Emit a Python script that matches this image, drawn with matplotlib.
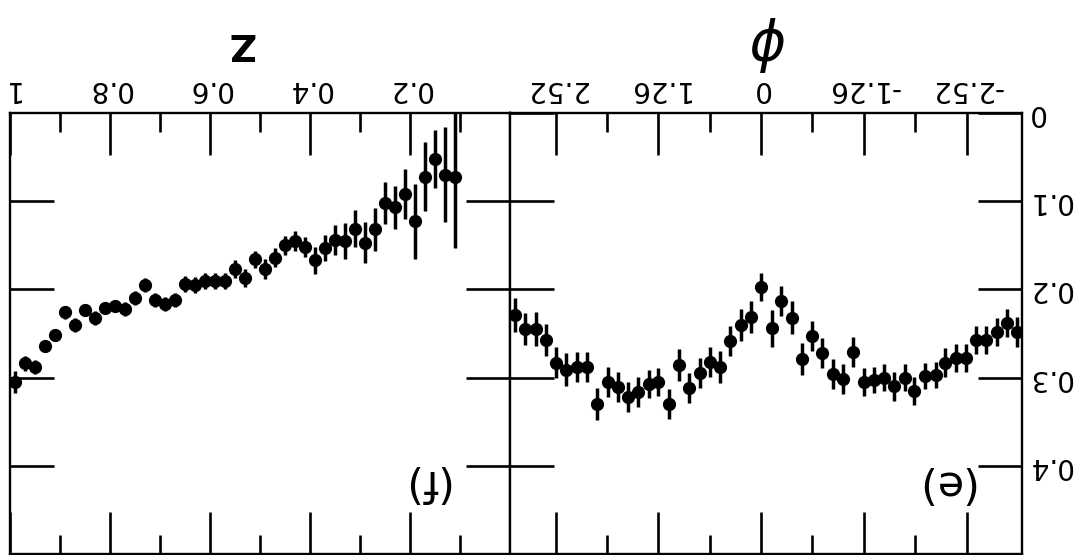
import matplotlib

matplotlib.use("Agg")
import matplotlib.pyplot as plt

# panel (e): phi distribution (50 bins)
phi = [3.02, 2.89, 2.76, 2.64, 2.51, 2.39, 2.26, 2.14, 2.01, 1.88,
       1.76, 1.63, 1.51, 1.38, 1.26, 1.13, 1.01, 0.88, 0.75, 0.63,
       0.50, 0.38, 0.25, 0.13, 0.00, -0.13, -0.25, -0.38, -0.50, -0.63,
       -0.75, -0.88, -1.01, -1.13, -1.26, -1.38, -1.51, -1.63, -1.76, -1.88,
       -2.01, -2.14, -2.26, -2.39, -2.51, -2.64, -2.76, -2.89, -3.02, -3.14]
phi_val = [0.229, 0.245, 0.245, 0.257, 0.283, 0.291, 0.288, 0.288, 0.330, 0.305,
           0.311, 0.322, 0.316, 0.307, 0.305, 0.330, 0.286, 0.312, 0.295, 0.282,
           0.288, 0.259, 0.240, 0.231, 0.197, 0.244, 0.213, 0.232, 0.279, 0.253,
           0.272, 0.296, 0.302, 0.271, 0.305, 0.303, 0.300, 0.310, 0.300, 0.315,
           0.298, 0.297, 0.283, 0.278, 0.278, 0.257, 0.257, 0.248, 0.238, 0.248]
phi_err = [0.019, 0.018, 0.019, 0.018, 0.018, 0.019, 0.017, 0.017, 0.018, 0.017,
           0.017, 0.017, 0.017, 0.016, 0.016, 0.017, 0.018, 0.017, 0.017, 0.017,
           0.018, 0.017, 0.018, 0.018, 0.016, 0.021, 0.017, 0.019, 0.018, 0.017,
           0.017, 0.017, 0.017, 0.017, 0.016, 0.015, 0.015, 0.016, 0.015, 0.016,
           0.015, 0.015, 0.016, 0.016, 0.016, 0.016, 0.016, 0.016, 0.016, 0.017]

# panel (f): Z distribution (45 bins)
z = [0.99, 0.97, 0.95, 0.93, 0.91, 0.89, 0.87, 0.85, 0.83, 0.81,
     0.79, 0.77, 0.75, 0.73, 0.71, 0.69, 0.67, 0.65, 0.63, 0.61,
     0.59, 0.57, 0.55, 0.53, 0.51, 0.49, 0.47, 0.45, 0.43, 0.41,
     0.39, 0.37, 0.35, 0.33, 0.31, 0.29, 0.27, 0.25, 0.23, 0.21,
     0.19, 0.17, 0.15, 0.13, 0.11]
z_val = [0.305, 0.284, 0.288, 0.264, 0.252, 0.226, 0.240, 0.223, 0.232, 0.221,
         0.219, 0.222, 0.210, 0.195, 0.212, 0.217, 0.212, 0.194, 0.195, 0.190,
         0.190, 0.190, 0.177, 0.187, 0.166, 0.177, 0.164, 0.150, 0.145, 0.152,
         0.167, 0.153, 0.144, 0.145, 0.131, 0.147, 0.132, 0.102, 0.107, 0.092,
         0.123, 0.072, 0.052, 0.070, 0.073]
z_err = [0.012, 0.008, 0.008, 0.007, 0.007, 0.007, 0.008, 0.007, 0.008, 0.007,
         0.007, 0.008, 0.008, 0.008, 0.008, 0.008, 0.008, 0.009, 0.009, 0.009,
         0.009, 0.009, 0.010, 0.010, 0.010, 0.011, 0.011, 0.011, 0.011, 0.011,
         0.015, 0.015, 0.017, 0.020, 0.021, 0.023, 0.024, 0.024, 0.024, 0.028,
         0.042, 0.039, 0.033, 0.054, 0.080]

y_ticks = [0.1, 0.2, 0.3, 0.4]
z_ticks = [1.0, 0.8, 0.6, 0.4, 0.2]
z_labels = ["1", "0.8", "0.6", "0.4", "0.2"]
z_minor = [0.9, 0.7, 0.5, 0.3, 0.1]
phi_ticks = [2.52, 1.26, 0.0, -1.26, -2.52]
phi_labels = ["2.52", "1.26", "0", "-1.26", "-2.52"]
phi_minor = [1.89, 0.63, -0.63, -1.89]


def style_axes(ax):
    # the whole scan is upside down: both axes inverted, labels turned 180 degrees
    ax.set_ylim(0.5, 0.0)
    ax.tick_params(axis="both", which="both", direction="in",
                   top=True, bottom=True, left=True, right=True,
                   labeltop=True, labelbottom=False, labelleft=False, labelright=False,
                   width=1.9, labelsize=20)
    ax.tick_params(axis="x", which="major", length=30, pad=7, labelrotation=180)
    ax.tick_params(axis="x", which="minor", length=14)
    ax.tick_params(axis="y", which="major", length=32)
    for spine in ax.spines.values():
        spine.set_linewidth(1.7)


def main() -> None:
    fig = plt.figure(figsize=(10.84, 5.55), dpi=100)
    ax_f = fig.add_axes([10 / 1084, 1 / 555, 500 / 1084, 441 / 555])
    ax_e = fig.add_axes([510 / 1084, 1 / 555, 512 / 1084, 441 / 555])

    style = dict(fmt="o", color="black", ms=8.5, elinewidth=2.5, capsize=0)
    ax_f.errorbar(z, z_val, yerr=z_err, **style)
    ax_e.errorbar(phi, phi_val, yerr=phi_err, **style)

    style_axes(ax_f)
    ax_f.set_xlim(1.0, 0.0)
    ax_f.set_xticks(z_ticks)
    ax_f.set_xticklabels(z_labels)
    ax_f.set_xticks(z_minor, minor=True)
    ax_f.set_yticks(y_ticks)

    style_axes(ax_e)
    ax_e.set_xlim(3.08, -3.20)
    ax_e.set_xticks(phi_ticks)
    ax_e.set_xticklabels(phi_labels)
    ax_e.set_xticks(phi_minor, minor=True)
    ax_e.set_yticks([0.0] + y_ticks)
    ax_e.set_yticklabels(["0", "0.1", "0.2", "0.3", "0.4"])
    ax_e.tick_params(axis="y", labelright=True, labelrotation=180, pad=4)
    for label in ax_e.get_yticklabels():
        label.set_verticalalignment("center")

    fig.text(241 / 1084, 1 - 43 / 555, "Z", fontsize=27, fontweight="bold",
             rotation=180, ha="center", va="center")
    fig.text(769 / 1084, 1 - 43 / 555, r"$\phi$", fontsize=40, rotation=180,
             ha="center", va="center")
    ax_e.text(0.846, 0.161, "(e)", transform=ax_e.transAxes, fontsize=31,
              rotation=180, ha="center", va="center")
    ax_f.text(0.828, 0.163, "(f)", transform=ax_f.transAxes, fontsize=31,
              rotation=180, ha="center", va="center")

    fig.savefig("out.png", dpi=100)
    plt.close(fig)


if __name__ == "__main__":
    main()
